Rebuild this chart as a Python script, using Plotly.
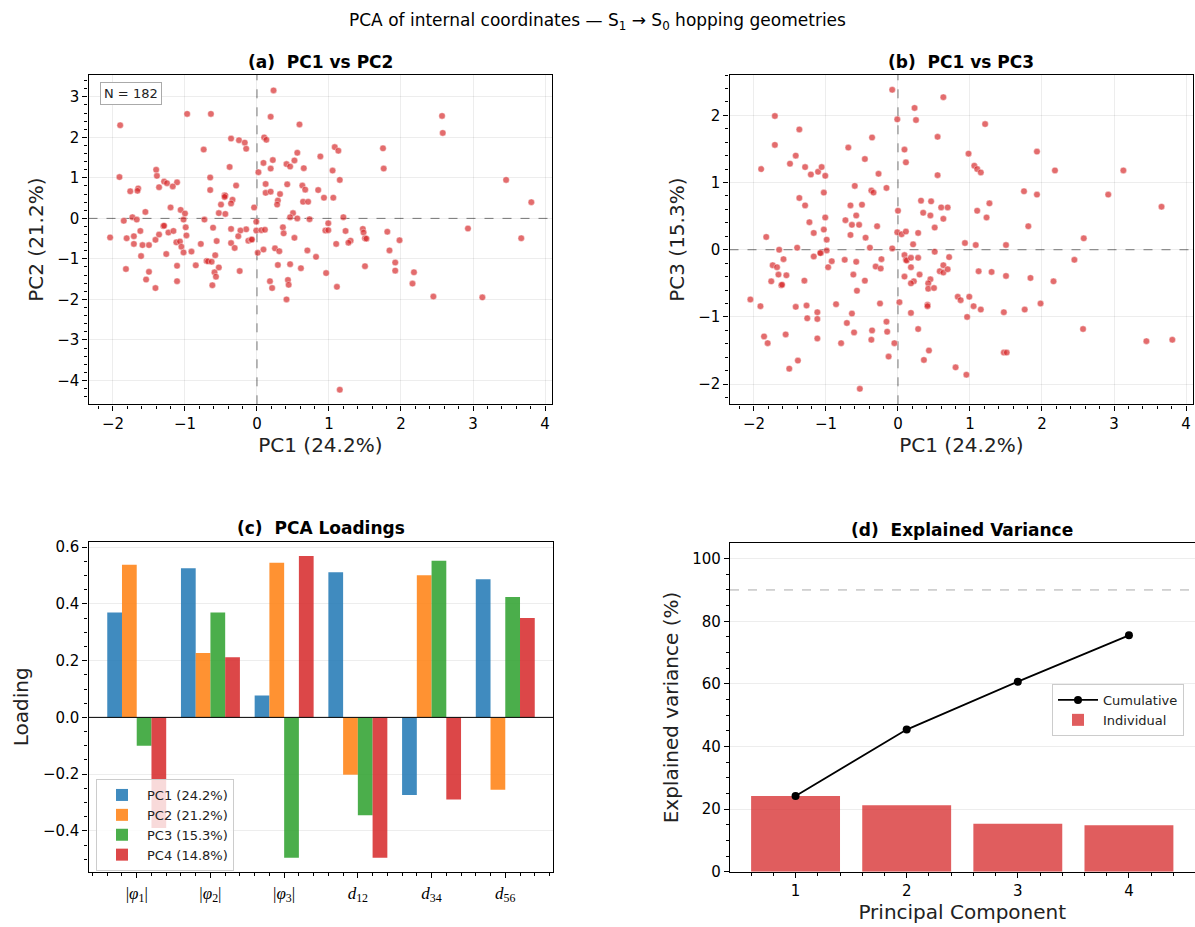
import plotly.graph_objects as go

# ---------------- data ----------------
# Panel (a): PC1 vs PC2 scores (182 hopping geometries)
scores_pc1_pc2 = [
    (0.23, 3.16), (-0.97, 2.58), (-0.64, 2.58), (-1.90, 2.30), (0.19, 2.51), (0.59, 2.32),
    (-0.36, 1.97), (-0.25, 1.93), (-0.17, 1.87), (-0.15, 1.72), (0.10, 2.00), (0.13, 1.94),
    (-0.74, 1.70), (0.09, 1.37), (0.22, 1.44), (0.19, 1.23), (0.02, 1.14), (0.56, 1.62),
    (0.52, 1.43), (0.41, 1.34), (0.46, 1.28), (0.65, 1.24), (0.88, 1.53), (-0.38, 1.27),
    (-1.91, 1.02), (-1.40, 1.20), (-1.39, 1.05), (-0.65, 1.01), (-1.36, 0.77), (-1.29, 0.91),
    (-1.25, 0.87), (-1.11, 0.89), (-1.17, 0.79), (-1.76, 0.67), (-1.65, 0.74), (-1.66, 0.68),
    (-0.65, 0.70), (-0.29, 0.81), (0.12, 0.85), (0.12, 0.63), (0.19, 0.66), (0.32, 0.60),
    (0.42, 0.84), (0.63, 0.81), (0.67, 0.71), (0.85, 0.70), (0.29, 0.44), (0.28, 0.34),
    (0.64, 0.41), (0.71, 0.41), (-0.45, 0.57), (-0.44, 0.56), (-0.45, 0.53), (-0.34, 0.46),
    (-0.36, 0.37), (-0.50, 0.34), (-0.53, 0.13), (-0.44, 0.11), (-1.55, 0.16), (-1.20, 0.27),
    (-1.06, 0.21), (-1.00, 0.12), (-0.04, 0.27), (0.50, 0.13), (0.46, 0.03), (0.56, 0.00),
    (0.73, -0.02), (-1.85, -0.06), (-1.73, 0.03), (-1.67, -0.03), (-1.02, -0.03), (-0.73, -0.03),
    (-0.01, -0.08), (-1.30, -0.19), (-1.29, -0.18), (-0.99, -0.22), (-0.61, -0.23), (-0.36, -0.26),
    (-0.15, -0.27), (-0.23, -0.30), (-0.01, -0.30), (0.06, -0.29), (0.11, -0.28), (0.36, -0.22),
    (-1.62, -0.31), (-1.23, -0.35), (-1.16, -0.31), (-1.36, -0.40), (0.37, -0.37), (-2.04, -0.47),
    (-1.81, -0.49), (-1.71, -0.44), (-0.98, -0.42), (-0.26, -0.44), (0.52, -0.48), (-1.41, -0.53),
    (-1.12, -0.59), (-1.07, -0.57), (-0.56, -0.56), (-0.12, -0.55), (-0.08, -0.53), (-0.07, -0.52),
    (-1.71, -0.63), (-1.59, -0.66), (-1.50, -0.66), (-0.78, -0.63), (-0.36, -0.61), (-0.31, -0.73),
    (-1.05, -0.70), (-1.02, -0.84), (-0.91, -0.82), (0.01, -0.85), (0.09, -0.77), (0.25, -0.74),
    (0.31, -0.81), (0.70, -0.79), (0.82, -0.95), (-1.61, -0.93), (-1.26, -0.88), (-0.58, -0.91),
    (-1.82, -1.25), (-1.50, -1.32), (-1.11, -1.17), (-0.85, -1.16), (-0.70, -1.05), (-0.68, -1.06),
    (-0.63, -1.07), (-0.53, -1.21), (-0.59, -1.33), (-0.57, -1.44), (-0.24, -1.30), (0.29, -1.15),
    (0.46, -1.13), (0.61, -1.23), (-1.54, -1.51), (-1.11, -1.55), (-1.41, -1.72), (-0.62, -1.65),
    (0.18, -1.55), (0.21, -1.72), (0.43, -1.52), (0.44, -1.64), (0.41, -2.00), (2.57, 2.53),
    (2.58, 2.11), (1.08, 1.76), (1.13, 1.67), (1.75, 1.73), (1.05, 1.18), (1.76, 1.23),
    (1.15, 0.95), (0.93, 0.51), (1.06, 0.51), (3.46, 0.95), (3.81, 0.40), (1.20, 0.03),
    (0.99, -0.12), (0.95, -0.30), (0.99, -0.29), (1.23, -0.31), (1.47, -0.26), (1.48, -0.35),
    (1.81, -0.33), (2.93, -0.25), (1.50, -0.49), (1.52, -0.50), (1.30, -0.55), (1.27, -0.60),
    (1.98, -0.54), (3.67, -0.49), (1.10, -0.63), (1.84, -0.79), (0.96, -1.35), (1.50, -1.18),
    (1.92, -1.09), (1.92, -1.29), (2.18, -1.33), (1.11, -1.69), (2.16, -1.61), (2.45, -1.93),
    (3.13, -1.95), (1.15, -4.23),
]

# Panel (b): PC1 vs PC3 scores
scores_pc1_pc3 = [
    (-0.08, 2.38), (-1.71, 1.99), (-0.01, 1.94), (0.23, 2.11), (0.25, 1.93), (0.63, 2.27),
    (-1.37, 1.79), (-1.71, 1.56), (-1.42, 1.40), (-1.90, 1.20), (-1.50, 1.28), (-1.29, 1.23),
    (-1.21, 1.12), (-1.11, 1.16), (-1.06, 1.23), (-1.01, 1.10), (-0.69, 1.52), (-0.36, 1.67),
    (-0.46, 1.35), (-0.27, 1.13), (0.09, 1.49), (0.11, 1.30), (0.55, 1.68), (0.55, 1.11),
    (-1.03, 0.85), (-1.37, 0.77), (-1.29, 0.66), (-0.60, 0.95), (-0.37, 0.88), (-0.34, 0.85),
    (-0.16, 0.92), (-0.66, 0.66), (-0.50, 0.67), (-0.58, 0.51), (-1.23, 0.41), (-1.01, 0.48),
    (-0.73, 0.44), (-0.64, 0.37), (-0.54, 0.37), (-0.29, 0.35), (0.00, 0.58), (0.32, 0.73),
    (0.46, 0.72), (0.35, 0.55), (0.45, 0.51), (0.60, 0.63), (0.63, 0.46), (0.51, 0.33),
    (-1.17, 0.25), (-1.03, 0.30), (-1.83, 0.19), (-0.99, 0.15), (-0.66, 0.22), (-0.45, 0.18),
    (-0.01, 0.26), (0.05, 0.23), (0.11, 0.27), (0.28, 0.25), (0.21, 0.08), (0.69, 0.63),
    (1.21, 1.87), (0.98, 1.43), (1.06, 1.25), (1.10, 1.20), (1.15, 1.15), (1.93, 1.46),
    (2.18, 1.18), (3.13, 1.18), (1.75, 0.87), (1.93, 0.82), (2.92, 0.82), (3.66, 0.64),
    (1.27, 0.69), (1.10, 0.58), (1.23, 0.48), (1.81, 0.35), (2.58, 0.17), (0.93, 0.10),
    (1.08, 0.07), (1.50, 0.07), (-1.65, 0.00), (-1.40, 0.03), (-0.39, 0.03), (-0.08, 0.02),
    (-0.99, -0.01), (0.51, -0.03), (-1.59, -0.14), (-1.17, -0.10), (-1.07, -0.05), (-1.08, -0.05),
    (0.09, -0.08), (0.11, -0.15), (0.12, -0.16), (0.18, -0.12), (0.28, -0.12), (-1.74, -0.23),
    (-1.68, -0.26), (-1.76, -0.47), (-1.66, -0.37), (-1.55, -0.38), (-1.62, -0.53), (-1.61, -0.52),
    (-0.92, -0.17), (-0.97, -0.26), (-0.74, -0.15), (-0.58, -0.18), (-0.31, -0.25), (-0.24, -0.28),
    (-0.23, -0.14), (-0.62, -0.37), (-0.46, -0.46), (-0.57, -0.61), (-1.30, -0.46), (0.18, -0.26),
    (0.09, -0.40), (0.30, -0.37), (0.22, -0.47), (0.18, -0.50), (0.45, -0.44), (0.42, -0.50),
    (0.42, -0.58), (0.50, -0.57), (0.58, -0.32), (0.63, -0.23), (-2.05, -0.74), (-1.91, -0.84),
    (-1.42, -0.85), (-1.27, -0.83), (-0.86, -0.81), (-0.25, -0.80), (0.02, -0.78), (0.41, -0.82),
    (0.41, -0.84), (-1.26, -1.02), (-1.12, -1.03), (-1.12, -0.93), (-0.64, -0.95), (-0.71, -1.09),
    (-1.86, -1.29), (-1.81, -1.39), (-1.56, -1.26), (-1.12, -1.32), (-0.79, -1.39), (-0.61, -1.23),
    (-0.36, -1.20), (-0.37, -1.34), (-0.16, -1.07), (-0.15, -1.22), (-0.13, -1.59), (-0.05, -1.39),
    (0.28, -1.18), (0.18, -0.94), (0.43, -1.50), (0.36, -1.64), (-1.39, -1.65), (-1.51, -1.77),
    (-0.53, -2.07), (0.71, -0.11), (0.63, -0.34), (0.69, -0.29), (1.12, -0.32), (1.30, -0.33),
    (1.50, -0.39), (1.84, -0.42), (2.16, -0.47), (2.45, -0.15), (0.83, -0.70), (0.87, -0.75),
    (0.99, -0.70), (1.05, -0.84), (1.15, -0.89), (1.47, -0.93), (1.76, -0.89), (1.98, -0.80),
    (0.96, -1.00), (2.57, -1.18), (3.45, -1.36), (3.81, -1.34), (1.47, -1.53), (1.51, -1.53),
    (0.80, -1.75), (0.95, -1.86),
]

pc1_a = [p[0] for p in scores_pc1_pc2]
pc2_a = [p[1] for p in scores_pc1_pc2]
pc1_b = [p[0] for p in scores_pc1_pc3]
pc3_b = [p[1] for p in scores_pc1_pc3]

# Panel (c): loadings
features = ["|<i>φ</i><sub>1</sub>|", "|<i>φ</i><sub>2</sub>|", "|<i>φ</i><sub>3</sub>|",
            "<i>d</i><sub>12</sub>", "<i>d</i><sub>34</sub>", "<i>d</i><sub>56</sub>"]
loading_pc1 = [0.37, 0.526, 0.077, 0.512, -0.274, 0.487]
loading_pc2 = [0.538, 0.227, 0.545, -0.202, 0.501, -0.255]
loading_pc3 = [-0.10, 0.37, -0.495, -0.345, 0.552, 0.424]
loading_pc4 = [-0.39, 0.212, 0.569, -0.495, -0.289, 0.35]
pc_labels = ["PC1 (24.2%)", "PC2 (21.2%)", "PC3 (15.3%)", "PC4 (14.8%)"]

# Panel (d): explained variance
components = [1, 2, 3, 4]
individual_var = [24.2, 21.2, 15.3, 14.8]
cumulative_var = [24.2, 45.4, 60.7, 75.5]
threshold = 90

# ---------------- layout helpers ----------------
W, H = 1195, 927
FONT = "DejaVu Sans"


def xd(a, b):
    return [a / W, b / W]


def yd(top, bottom):
    return [1 - bottom / H, 1 - top / H]


def axis(**kw):
    base = dict(
        showline=True, linecolor="black", linewidth=1.4, mirror=True,
        ticks="outside", ticklen=5, tickwidth=1.1, tickcolor="black",
        showgrid=True, gridcolor="rgba(0,0,0,0.07)", gridwidth=1,
        zeroline=False, automargin=False,
        tickfont=dict(family=FONT, size=15, color="black"),
        title_font=dict(family=FONT, size=20, color="#222"),
    )
    base.update(kw)
    return base


def minor(d):
    return dict(ticks="outside", ticklen=3, tickwidth=0.9, tickcolor="black", dtick=d, showgrid=False)


fig = go.Figure()

scatter_marker = dict(size=6.5, color="rgba(214,39,40,0.68)", line=dict(width=0.6, color="rgba(255,255,255,0.7)"))

fig.add_trace(go.Scatter(x=pc1_a, y=pc2_a, mode="markers", marker=scatter_marker,
                         xaxis="x", yaxis="y", showlegend=False))
fig.add_trace(go.Scatter(x=pc1_b, y=pc3_b, mode="markers", marker=scatter_marker,
                         xaxis="x2", yaxis="y2", showlegend=False))

bar_colors = ["rgba(31,119,180,0.85)", "rgba(255,127,14,0.85)", "rgba(44,160,44,0.85)", "rgba(214,39,40,0.85)"]
cat_pos = list(range(len(features)))
for lbl, vals, col in zip(pc_labels, [loading_pc1, loading_pc2, loading_pc3, loading_pc4], bar_colors):
    fig.add_trace(go.Bar(x=cat_pos, y=vals, name=lbl, marker=dict(color=col, line=dict(width=0)),
                         xaxis="x3", yaxis="y3", legend="legend"))

fig.add_trace(go.Scatter(x=components, y=cumulative_var, mode="lines+markers", name="Cumulative",
                         line=dict(color="black", width=1.8), marker=dict(color="black", size=8),
                         xaxis="x4", yaxis="y4", legend="legend2"))
fig.add_trace(go.Bar(x=components, y=individual_var, name="Individual",
                     marker=dict(color="rgba(214,39,40,0.75)", line=dict(width=0)),
                     xaxis="x4", yaxis="y4", legend="legend2"))

top_row = yd(75, 404.3)
fig.update_layout(
    width=W, height=H, autosize=False,
    margin=dict(l=0, r=0, t=0, b=0),
    paper_bgcolor="white", plot_bgcolor="white",
    font=dict(family=FONT, color="black"),
    barmode="group", bargap=0.2, bargroupgap=0.0,
    xaxis=axis(domain=xd(88.5, 552.2), anchor="y", range=[-2.34, 4.1], dtick=1, tick0=0,
               minor=minor(0.2), title=dict(text="PC1 (24.2%)", standoff=6)),
    yaxis=axis(domain=top_row, anchor="x", range=[-4.59, 3.54], dtick=1, tick0=0,
               minor=minor(0.2), title=dict(text="PC2 (21.2%)", standoff=8)),
    xaxis2=axis(domain=xd(729.5, 1193.2), anchor="y2", range=[-2.34, 4.1], dtick=1, tick0=0,
                minor=minor(0.2), title=dict(text="PC1 (24.2%)", standoff=6)),
    yaxis2=axis(domain=top_row, anchor="x2", range=[-2.30, 2.60], dtick=1, tick0=0,
                minor=minor(0.2), title=dict(text="PC3 (15.3%)", standoff=8)),
    xaxis3=axis(domain=xd(88.6, 553.4), anchor="y3", range=[-0.653, 5.653],
                tickmode="array", tickvals=cat_pos, ticktext=features, showgrid=False,
                tickfont=dict(family="Liberation Serif", size=17, color="black"),
                minor=dict(ticks="outside", ticklen=3, tickwidth=0.9, tickcolor="black",
                           tick0=0, dtick=0.2, showgrid=False)),
    yaxis3=axis(domain=yd(541.5, 872), anchor="x3", range=[-0.545, 0.62], dtick=0.2, tick0=0,
                tickformat=".1f", minor=minor(0.05), title=dict(text="Loading", standoff=8)),
    xaxis4=axis(domain=xd(730, 1194.5), anchor="y4", range=[0.41, 4.59], dtick=1, tick0=0,
                showgrid=False, minor=minor(0.2), title=dict(text="Principal Component", standoff=6)),
    yaxis4=axis(domain=yd(543.3, 871.7), anchor="x4", range=[0, 104.9], dtick=20, tick0=0,
                minor=minor(5), title=dict(text="Explained variance (%)", standoff=8)),
    legend=dict(x=96 / W, y=1 - 779 / H, xanchor="left", yanchor="top",
                bgcolor="rgba(255,255,255,0.8)", bordercolor="#cccccc", borderwidth=1,
                font=dict(family=FONT, size=13, color="#222"), itemwidth=40, tracegroupgap=0),
    legend2=dict(x=1052 / W, y=1 - 684 / H, xanchor="left", yanchor="top",
                 bgcolor="rgba(255,255,255,0.8)", bordercolor="#cccccc", borderwidth=1,
                 font=dict(family=FONT, size=13, color="#222"), itemwidth=40),
)

# reference lines
dash_line = dict(color="rgba(110,110,110,0.9)", width=1, dash="dash")
shapes = [
    dict(type="line", xref="x", yref="y domain", x0=0, x1=0, y0=0, y1=1, line=dash_line, layer="below"),
    dict(type="line", xref="x domain", yref="y", x0=0, x1=1, y0=0, y1=0, line=dash_line, layer="below"),
    dict(type="line", xref="x2", yref="y2 domain", x0=0, x1=0, y0=0, y1=1, line=dash_line, layer="below"),
    dict(type="line", xref="x2 domain", yref="y2", x0=0, x1=1, y0=0, y1=0, line=dash_line, layer="below"),
    dict(type="line", xref="x3 domain", yref="y3", x0=0, x1=1, y0=0, y1=0,
         line=dict(color="black", width=1), layer="above"),
    dict(type="line", xref="x4 domain", yref="y4", x0=0, x1=1, y0=threshold, y1=threshold,
         line=dict(color="rgba(150,150,150,0.8)", width=1, dash="dash"), layer="below"),
]
fig.update_layout(shapes=shapes)

title_font = dict(family=FONT, size=17, color="black")
annotations = [
    dict(text="PCA of internal coordinates — S<sub>1</sub> → S<sub>0</sub> hopping geometries",
         x=598 / W, y=1 - 22 / H, xref="paper", yref="paper", showarrow=False,
         font=dict(family=FONT, size=17, color="black"), xanchor="center", yanchor="middle"),
    dict(text="<b>(a)  PC1 vs PC2</b>", x=320 / W, y=1 - 62 / H, xref="paper", yref="paper",
         showarrow=False, font=title_font, xanchor="center", yanchor="middle"),
    dict(text="<b>(b)  PC1 vs PC3</b>", x=961 / W, y=1 - 62 / H, xref="paper", yref="paper",
         showarrow=False, font=title_font, xanchor="center", yanchor="middle"),
    dict(text="<b>(c)  PCA Loadings</b>", x=321 / W, y=1 - 528 / H, xref="paper", yref="paper",
         showarrow=False, font=title_font, xanchor="center", yanchor="middle"),
    dict(text="<b>(d)  Explained Variance</b>", x=962 / W, y=1 - 530 / H, xref="paper", yref="paper",
         showarrow=False, font=title_font, xanchor="center", yanchor="middle"),
    dict(text="N = 182", xref="x domain", yref="y domain", x=0.025, y=0.978,
         xanchor="left", yanchor="top", showarrow=False,
         font=dict(family=FONT, size=13, color="#222"),
         bgcolor="white", bordercolor="#aaaaaa", borderwidth=1, borderpad=3),
]
fig.update_layout(annotations=annotations)

fig.write_html("out.html", config={"displayModeBar": False},
               post_script="document.body.style.margin='0';")
